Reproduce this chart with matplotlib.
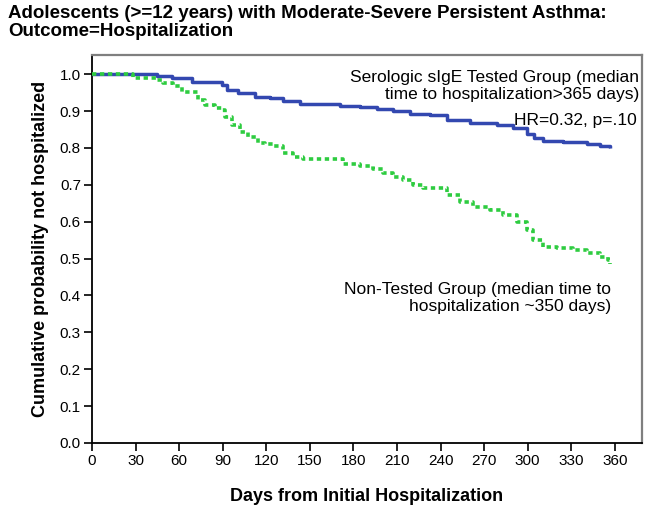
import matplotlib
matplotlib.use("Agg")
import matplotlib.pyplot as plt
from matplotlib import font_manager as fm

# ---- data ----
tested_days = [0, 44.5, 54.9, 68.6, 89.3, 92.7, 100.5, 112.2, 122.6, 131.5, 143.2,
               170.8, 184.5, 196, 207.2, 218.9, 232.7, 244.2, 260.3, 278.6, 289.9,
               299.3, 304.5, 310.5, 324.3, 340.6, 350.0, 356.6]
tested_surv = [1.0, 0.996, 0.989, 0.980, 0.971, 0.958, 0.950, 0.937, 0.935, 0.926, 0.920,
               0.914, 0.911, 0.905, 0.899, 0.892, 0.890, 0.877, 0.868, 0.861, 0.855,
               0.837, 0.828, 0.819, 0.815, 0.811, 0.806, 0.799]

nontested_days = [0, 28.5, 44.5, 49, 56, 61.7, 68.6, 73.2, 77.8, 84.7, 89.3, 91.6, 96.2,
                  101.9, 107.6, 114.5, 119, 124.8, 131.7, 138.6, 145, 170.8, 173, 184.5,
                  193.7, 200.6, 207.5, 214.3, 221.2, 228.1, 235, 244.2, 253.4, 262.5,
                  274, 283.2, 292.4, 299.3, 303.9, 310.7, 320, 331.4, 340.6, 349.8,
                  355.5, 356.7]
nontested_surv = [1.0, 0.99, 0.985, 0.976, 0.968, 0.953, 0.951, 0.930, 0.917, 0.908, 0.903,
                  0.885, 0.862, 0.844, 0.829, 0.813, 0.811, 0.806, 0.786, 0.776, 0.770,
                  0.770, 0.757, 0.751, 0.742, 0.733, 0.722, 0.713, 0.700, 0.692, 0.691,
                  0.673, 0.654, 0.641, 0.632, 0.618, 0.600, 0.578, 0.551, 0.532, 0.528,
                  0.523, 0.516, 0.505, 0.496, 0.485]

x_ticks = list(range(0, 361, 30))
y_ticks = [i / 10 for i in range(0, 11)]

title = ("Adolescents (>=12 years) with Moderate-Severe Persistent Asthma:\n"
         "Outcome=Hospitalization")
tested_label = "Serologic sIgE Tested Group (median\ntime to hospitalization>365 days)"
hr_label = "HR=0.32, p=.10"
nontested_label = "Non-Tested Group (median time to\nhospitalization ~350 days)"

# ---- fonts ----
names = {f.name for f in fm.fontManager.ttflist}
narrow = "Liberation Sans Narrow" if "Liberation Sans Narrow" in names else "Liberation Sans"
plt.rcParams['font.family'] = ['Liberation Sans', 'DejaVu Sans']

fig = plt.figure(figsize=(6.54, 5.09), dpi=100)
ax = fig.add_axes([92 / 654, 66 / 509, (642 - 92) / 654, (443 - 55) / 509])

ax.plot(tested_days, tested_surv, drawstyle='steps-post', color='#3348b0',
        lw=2.5, solid_capstyle='butt', zorder=3)
ax.plot(nontested_days, nontested_surv, drawstyle='steps-post', color='#2ecc40',
        lw=2.6, linestyle=(0, (1.2, 1.0)), zorder=3)

ax.set_xlim(0, 378.7)
ax.set_ylim(0, 1.052)
ax.set_xticks(x_ticks)
ax.set_yticks(y_ticks)
ax.set_xticklabels([str(t) for t in x_ticks])
ax.set_yticklabels([f"{t:.1f}" for t in y_ticks])
ax.tick_params(direction='out', length=6, width=1.2, labelsize=11, pad=2)

for s in ['left', 'bottom']:
    ax.spines[s].set_color('black')
    ax.spines[s].set_linewidth(1.3)
for s in ['top', 'right']:
    ax.spines[s].set_color('#7f7f7f')
    ax.spines[s].set_linewidth(1.6)

ax.set_xlabel("Days from Initial Hospitalization", fontsize=13, fontweight='bold',
              family=narrow, labelpad=14)
ax.set_ylabel("Cumulative probability not hospitalized", fontsize=13, fontweight='bold',
              family=narrow, labelpad=8)


def px(x, y):
    return (x / 654, 1 - y / 509)


fig.text(*px(8, 5), title, ha='left', va='top', fontsize=13.5,
         fontweight='bold', family=narrow, linespacing=1.1)

fig.text(*px(639, 86), tested_label, ha='right', va='center', fontsize=12.5,
         linespacing=1.1, multialignment='right')
fig.text(*px(637, 120), hr_label, ha='right', va='center', fontsize=12.5)
fig.text(*px(611, 298), nontested_label, ha='right', va='center', fontsize=12.5,
         linespacing=1.1, multialignment='right')

fig.savefig("out.png", dpi=100)
